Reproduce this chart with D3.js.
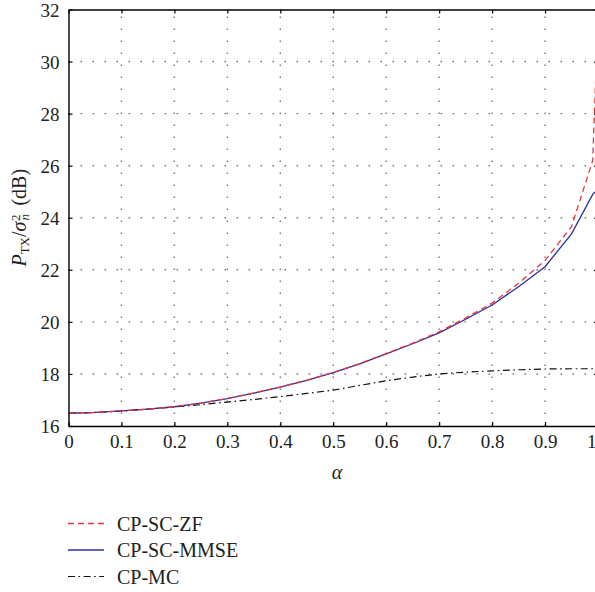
<!DOCTYPE html>
<html>
<head>
<meta charset="utf-8">
<script src="https://cdn.jsdelivr.net/npm/d3@7"></script>
<style>
  body { margin: 0; background: #fff; }
  svg { font-family: "Liberation Serif", "DejaVu Serif", serif; }
</style>
</head>
<body>
<div id="chart"></div>
<script>
// valores
const alpha = [0, 0.05, 0.1, 0.15, 0.2, 0.25, 0.3, 0.35, 0.4, 0.45, 0.5,
               0.55, 0.6, 0.65, 0.7, 0.75, 0.8, 0.85, 0.9, 0.95, 0.99, 1];
const zf   = [16.49, 16.52, 16.58, 16.65, 16.74, 16.88, 17.06, 17.27, 17.5, 17.76, 18.06,
              18.4, 18.78, 19.18, 19.62, 20.15, 20.72, 21.48, 22.36, 23.66, 26.2, 31.8];
const mmse = [16.49, 16.52, 16.58, 16.65, 16.74, 16.88, 17.05, 17.26, 17.49, 17.75, 18.05,
              18.39, 18.77, 19.16, 19.58, 20.1, 20.65, 21.35, 22.12, 23.38, 24.9, 25.1];
const mc   = [16.49, 16.52, 16.57, 16.65, 16.73, 16.82, 16.92, 17.02, 17.13, 17.25, 17.38,
              17.56, 17.74, 17.88, 18.0, 18.07, 18.12, 18.16, 18.19, 18.2, 18.2, 18.2];
const xTicks = [0, 0.1, 0.2, 0.3, 0.4, 0.5, 0.6, 0.7, 0.8, 0.9, 1];
const yTicks = [16, 18, 20, 22, 24, 26, 28, 30, 32];
const seriesNames = ['CP-SC-ZF', 'CP-SC-MMSE', 'CP-MC'];

const W = 595, H = 592;
const x = d3.scaleLinear().domain([0, 1]).range([68.5, 598]);
const y = d3.scaleLinear().domain([16, 32]).range([426, 9.5]);

const svg = d3.select('#chart').append('svg')
    .attr('width', W).attr('height', H);

// rejilla punteada
const grid = svg.append('g')
    .attr('stroke', '#777').attr('stroke-width', 1.4).attr('stroke-dasharray', '1.6,10.4');
grid.selectAll('.gx').data(xTicks.slice(1)).enter().append('line')
    .attr('x1', d => x(d)).attr('x2', d => x(d))
    .attr('y1', y(16)).attr('y2', y(32));
grid.selectAll('.gy').data(yTicks.slice(1, -1)).enter().append('line')
    .attr('x1', x(0)).attr('x2', x(1))
    .attr('y1', d => y(d)).attr('y2', d => y(d));

// series
const series = [
  { name: seriesNames[0], values: zf,   color: '#e8343f', dash: '6,4', width: 1.3 },
  { name: seriesNames[1], values: mmse, color: '#2a2f9c', dash: null,  width: 1.3 },
  { name: seriesNames[2], values: mc,   color: '#111',    dash: '7,3.5,1.6,3.5', width: 1.2 }
];
const line = d3.line().x((d, i) => x(alpha[i])).y(d => y(d));
svg.append('defs').append('clipPath').attr('id', 'clip')
  .append('rect').attr('x', x(0)).attr('y', y(32)).attr('width', x(1) - x(0)).attr('height', y(16) - y(32));
const plot = svg.append('g').attr('clip-path', 'url(#clip)');
// dibujar MC primero, luego MMSE, luego ZF encima
[series[2], series[1], series[0]].forEach(s => {
  plot.append('path')
    .datum(s.values)
    .attr('d', line)
    .attr('fill', 'none')
    .attr('stroke', s.color)
    .attr('stroke-width', s.width)
    .attr('stroke-dasharray', s.dash);
});

// ejes
const axB = svg.append('g').attr('transform', `translate(0,${y(16)})`)
    .call(d3.axisBottom(x).tickValues(xTicks).tickFormat(d3.format('')).tickSizeInner(-4).tickSizeOuter(0).tickPadding(9));
const axT = svg.append('g').attr('transform', `translate(0,${y(32)})`)
    .call(d3.axisTop(x).tickValues(xTicks).tickFormat('').tickSizeInner(-4).tickSizeOuter(0));
const axL = svg.append('g').attr('transform', `translate(${x(0)},0)`)
    .call(d3.axisLeft(y).tickValues(yTicks).tickSizeInner(-4).tickSizeOuter(0).tickPadding(9));
const axR = svg.append('g').attr('transform', `translate(${x(1)},0)`)
    .call(d3.axisRight(y).tickValues(yTicks).tickFormat('').tickSizeInner(-4).tickSizeOuter(0));
[axB, axT, axL, axR].forEach(a => {
  a.select('.domain').attr('stroke', '#000').attr('stroke-width', 1.4);
  a.selectAll('.tick line').attr('stroke', '#000').attr('stroke-width', 1.2);
  a.selectAll('.tick text').attr('fill', '#222').style('font-size', '19px')
    .style('font-family', '"Liberation Serif", serif');
});
axB.selectAll('.tick text').attr('dy', '0.71em');
axL.selectAll('.tick text').attr('dy', '0.35em');
// el "1" del final queda dentro de la ventana
axB.selectAll('.tick text').filter(d => d === 1).attr('text-anchor', 'end').attr('x', -2);

// etiqueta eje x
svg.append('text')
  .attr('x', 337).attr('y', 479)
  .attr('text-anchor', 'middle')
  .style('font-size', '20px').style('font-style', 'italic').attr('fill', '#222')
  .text('α');

// etiqueta eje y
const yl = svg.append('text')
  .attr('transform', `translate(26,${(y(16) + y(32)) / 2}) rotate(-90)`)
  .attr('text-anchor', 'middle')
  .style('font-size', '20px').attr('fill', '#222');
yl.append('tspan').style('font-style', 'italic').text('P');
yl.append('tspan').attr('baseline-shift', '-25%').style('font-size', '13px').text('TX');
yl.append('tspan').text('/');
yl.append('tspan').style('font-style', 'italic').text('σ');
yl.append('tspan').attr('dx', 1).attr('baseline-shift', '-25%').style('font-size', '13px').style('font-style', 'italic').text('n');
yl.append('tspan').attr('dx', -7).attr('baseline-shift', '45%').style('font-size', '13px').text('2');
yl.append('tspan').attr('dx', 4).text(' (dB)');

// leyenda
const leg = svg.append('g');
series.forEach((s, i) => {
  const yy = 523.5 + i * 26.5;
  leg.append('line')
    .attr('x1', 68).attr('x2', 104).attr('y1', yy).attr('y2', yy)
    .attr('stroke', s.color).attr('stroke-width', s.width)
    .attr('stroke-dasharray', s.dash);
  leg.append('text')
    .attr('x', 117).attr('y', yy).attr('dy', '0.35em')
    .style('font-size', '20px').attr('fill', '#222')
    .text(s.name);
});
</script>
</body>
</html>
